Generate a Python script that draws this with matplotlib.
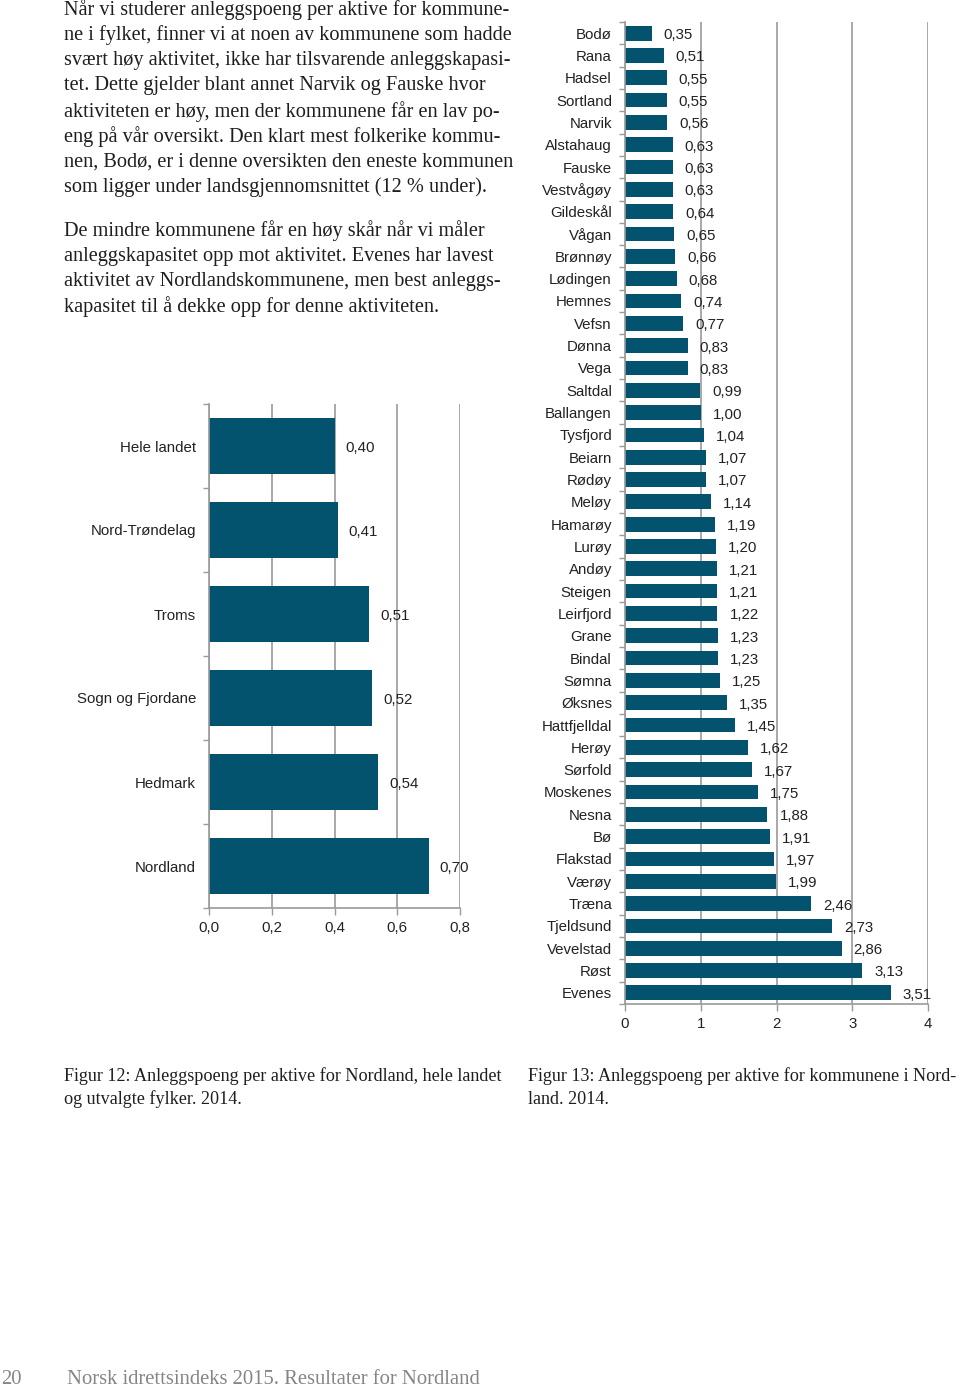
import matplotlib
matplotlib.use("Agg")
import matplotlib.pyplot as plt
from matplotlib.ticker import FixedLocator

# ---------------- data ----------------
fylker = ["Hele landet", "Nord-Trøndelag", "Troms", "Sogn og Fjordane", "Hedmark", "Nordland"]
fylke_verdier = [0.40, 0.41, 0.51, 0.52, 0.54, 0.70]
fylke_xticks = [0.0, 0.2, 0.4, 0.6, 0.8]

kommuner = ["Bodø", "Rana", "Hadsel", "Sortland", "Narvik", "Alstahaug", "Fauske",
            "Vestvågøy", "Gildeskål", "Vågan", "Brønnøy", "Lødingen", "Hemnes", "Vefsn",
            "Dønna", "Vega", "Saltdal", "Ballangen", "Tysfjord", "Beiarn", "Rødøy", "Meløy",
            "Hamarøy", "Lurøy", "Andøy", "Steigen", "Leirfjord", "Grane", "Bindal", "Sømna",
            "Øksnes", "Hattfjelldal", "Herøy", "Sørfold", "Moskenes", "Nesna", "Bø",
            "Flakstad", "Værøy", "Træna", "Tjeldsund", "Vevelstad", "Røst", "Evenes"]
kommune_verdier = [0.35, 0.51, 0.55, 0.55, 0.56, 0.63, 0.63, 0.63, 0.64, 0.65, 0.66, 0.68,
                   0.74, 0.77, 0.83, 0.83, 0.99, 1.00, 1.04, 1.07, 1.07, 1.14, 1.19, 1.20,
                   1.21, 1.21, 1.22, 1.23, 1.23, 1.25, 1.35, 1.45, 1.62, 1.67, 1.75, 1.88,
                   1.91, 1.97, 1.99, 2.46, 2.73, 2.86, 3.13, 3.51]
kommune_xticks = [0, 1, 2, 3, 4]

body_p1 = [
    "Når vi studerer anleggspoeng per aktive for kommune-",
    "ne i fylket, finner vi at noen av kommunene som hadde",
    "svært høy aktivitet, ikke har tilsvarende anleggskapasi-",
    "tet. Dette gjelder blant annet Narvik og Fauske hvor",
    "aktiviteten er høy, men der kommunene får en lav po-",
    "eng på vår oversikt. Den klart mest folkerike kommu-",
    "nen, Bodø, er i denne oversikten den eneste kommunen",
    "som ligger under landsgjennomsnittet (12 % under).",
]
body_p2 = [
    "De mindre kommunene får en høy skår når vi måler",
    "anleggskapasitet opp mot aktivitet. Evenes har lavest",
    "aktivitet av Nordlandskommunene, men best anleggs-",
    "kapasitet til å dekke opp for denne aktiviteten.",
]
caption12 = ["Figur 12: Anleggspoeng per aktive for Nordland, hele landet",
             "og utvalgte fylker. 2014."]
caption13 = ["Figur 13: Anleggspoeng per aktive for kommunene i Nord-",
             "land. 2014."]
footer_page = "20"
footer_text = "Norsk idrettsindeks 2015. Resultater for Nordland"

# ---------------- style ----------------
W, H = 960, 1387
BAR = "#03536f"
GRID = "#9a9a9a"
SANS = ["Liberation Sans", "DejaVu Sans"]
SERIF = ["Liberation Serif", "DejaVu Serif"]

fig = plt.figure(figsize=(W / 100, H / 100), dpi=100)
fig.patch.set_facecolor("white")


def px_axes(x0, y_top, x1, y_bot):
    return fig.add_axes([x0 / W, 1 - y_bot / H, (x1 - x0) / W, (y_bot - y_top) / H])


def fmt(v):
    return f"{v:.2f}".replace(".", ",")


def bar_chart(ax, cats, vals, xticks, xmax, height, label_off_px, tick_fmt):
    n = len(cats)
    y = list(range(n))
    ax.barh(y, vals, height=height, color=BAR, zorder=2)
    ax.set_xlim(0, xmax)
    ax.set_ylim(n - 0.5, -0.5)
    ax.set_xticks(xticks)
    ax.set_xticklabels([tick_fmt(t) for t in xticks], fontsize=10.8, family=SANS, color="#222222")
    ax.set_yticks(y)
    ax.set_yticklabels(cats, fontsize=10.8, family=SANS, color="#222222")
    ax.yaxis.set_minor_locator(FixedLocator([i - 0.5 for i in range(n + 1)]))
    ax.tick_params(axis="y", which="major", length=0, pad=9.4)
    ax.tick_params(axis="y", which="minor", length=4, color=GRID, width=1, direction="out")
    ax.tick_params(axis="x", which="major", length=5, color=GRID, width=1, pad=4)
    for s in ["top", "right"]:
        ax.spines[s].set_visible(False)
    for s in ["left", "bottom"]:
        ax.spines[s].set_color(GRID)
        ax.spines[s].set_linewidth(1.2)
    ax.grid(axis="x", color=GRID, linewidth=1.2, zorder=0)
    ax.set_axisbelow(True)
    ax.set_facecolor("none")
    for yi, v in zip(y, vals):
        ax.annotate(fmt(v), (v, yi), xytext=(label_off_px * 0.72, -1.4), textcoords="offset points",
                    va="center", ha="left", fontsize=10.8, family=SANS, color="#222222", zorder=3)


ax1 = px_axes(209, 404, 460, 908)
bar_chart(ax1, fylker, fylke_verdier, fylke_xticks, 0.8, 0.667, 11,
          lambda t: f"{t:.1f}".replace(".", ","))

ax2 = px_axes(625, 22, 928, 1004)
bar_chart(ax2, kommuner, kommune_verdier, kommune_xticks, 4, 0.66, 12,
          lambda t: f"{t:.0f}")

# ---------------- page text ----------------
TXT = "#1e1e1e"
pitch = 25.3
for i, line in enumerate(body_p1):
    fig.text(64 / W, 1 - (10 + i * pitch) / H, line, fontsize=14.6, family=SERIF,
             color=TXT, va="center", ha="left")
for i, line in enumerate(body_p2):
    fig.text(64 / W, 1 - (231 + i * pitch) / H, line, fontsize=14.6, family=SERIF,
             color=TXT, va="center", ha="left")

for i, line in enumerate(caption12):
    fig.text(64 / W, 1 - (1076 + i * 23) / H, line, fontsize=13.1, family=SERIF,
             color=TXT, va="center", ha="left")
for i, line in enumerate(caption13):
    fig.text(528 / W, 1 - (1076 + i * 23) / H, line, fontsize=13.1, family=SERIF,
             color=TXT, va="center", ha="left")

fig.text(1 / W, 1 - 1379 / H, footer_page, fontsize=14.9, family=SERIF, color="#858585",
         va="center", ha="left")
fig.text(67 / W, 1 - 1379 / H, footer_text, fontsize=14.9, family=SERIF, color="#858585",
         va="center", ha="left")

fig.savefig("out.png", dpi=100, facecolor="white")
